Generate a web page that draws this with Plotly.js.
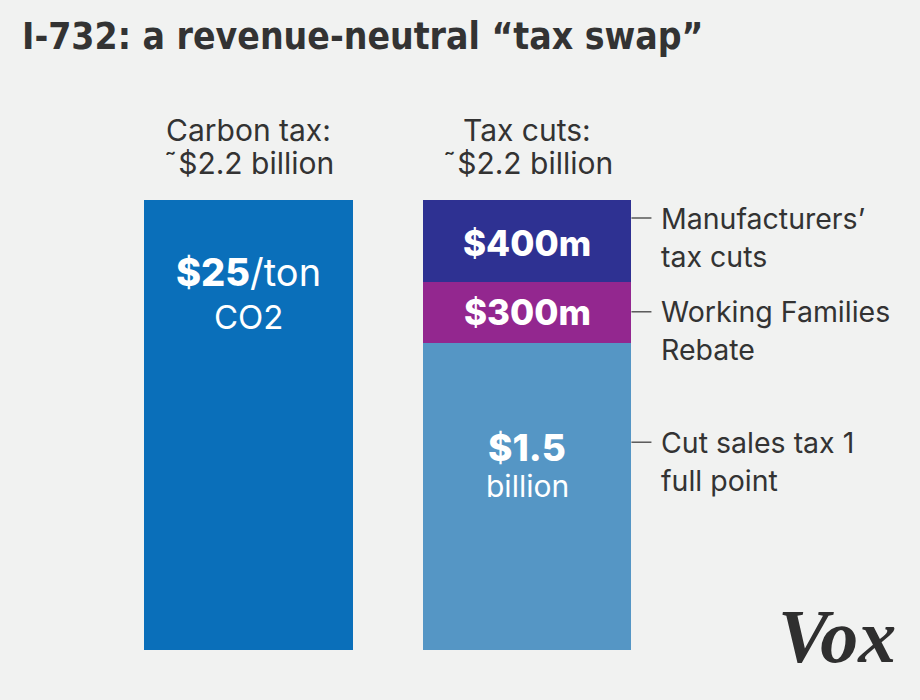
<!DOCTYPE html>
<html><head><meta charset="utf-8">
<script src="https://cdn.plot.ly/plotly-3.0.1.min.js"></script>
<style>body{margin:0;background:#f1f2f1;}#chart{width:920px;height:700px;}</style>
</head><body><div id="chart"></div>
<script>
// Data (billions of dollars)
const carbonTax = 2.2;
const cutNames = ["Cut sales tax 1 full point", "Working Families Rebate", "Manufacturers' tax cuts"];
const cutValues = [1.5, 0.3, 0.4];
const cutColors = ["#5596c5", "#93278f", "#2e3192"];
const B = t => "<span style='font-weight:800'>" + t + "</span>";
const cutInside = [[B("$1.5"), "billion"], [B("$300m")], [B("$400m")]];
const cutSide = [["Cut sales tax 1", "full point"], ["Working Families", "Rebate"], ["Manufacturers’", "tax cuts"]];
const headers = [["Carbon tax:", "˜$2.2 billion"], ["Tax cuts:", "˜$2.2 billion"]];

const FONT = "Inter, 'Open Sans', sans-serif";
const TXT = "#333333";
const W = 0.75;

const traces = [{
  type: "bar", x: [0], y: [carbonTax], width: W,
  marker: {color: "#0a6fba", line: {width: 0}}, hoverinfo: "skip", showlegend: false
}];
cutValues.forEach((v, i) => traces.push({
  type: "bar", x: [1], y: [v], width: W, name: cutNames[i],
  marker: {color: cutColors[i], line: {width: 0}}, hoverinfo: "skip", showlegend: false
}));

const pxPerUnit = 450 / 2.2;
const u = px => px / pxPerUnit;

const ann = [];
headers.forEach((h, i) => {
  ann.push({x: i, y: carbonTax + u(70), text: h[0]});
  ann.push({x: i, y: carbonTax + u(37), text: h[1]});
});
ann.forEach(a => Object.assign(a, {xref: "x", yref: "y", showarrow: false, xanchor: "center", yanchor: "middle", font: {family: FONT, size: 30, color: TXT}}));

ann.push({x: 0, y: carbonTax - u(72), text: B("$25") + "/ton", xref: "x", yref: "y", showarrow: false, font: {family: FONT, size: 38, color: "#ffffff"}});
ann.push({x: 0, y: carbonTax - u(117), text: "CO2", xref: "x", yref: "y", showarrow: false, font: {family: FONT, size: 33, color: "#ffffff"}});

let base = 0;
const shapes = [];
const insideOffsets = [[-104, -143], [-30], [-43]];
const insideSizes = [[37, 30], [35], [35]];
const sideOffset = [99, 30, 18];
cutValues.forEach((v, i) => {
  const top = base + v;
  cutInside[i].forEach((t, j) => {
    ann.push({x: 1, y: top + u(insideOffsets[i][j]), text: t, xref: "x", yref: "y", showarrow: false,
      font: {family: FONT, size: insideSizes[i][j], color: "#ffffff"}});
  });
  const ly = top - u(sideOffset[i]);
  shapes.push({type: "line", xref: "x", yref: "y", x0: 1 + W / 2, x1: 1 + W / 2 + 20 / 278.5, y0: ly, y1: ly, line: {color: TXT, width: 1.2}});
  cutSide[i].forEach((t, j) => {
    ann.push({x: 1 + W / 2 + 28 / 278.5, y: ly - u(38 * j), text: t, xref: "x", yref: "y", showarrow: false,
      xanchor: "left", yanchor: "middle", font: {family: FONT, size: 28.5, color: TXT}});
  });
  base = top;
});

// Vox logo
ann.push({xref: "paper", yref: "container", x: 1, y: 0, xanchor: "right", yanchor: "bottom", xshift: -22, yshift: -30,
  text: "<b><i>Vox</i></b>", showarrow: false, font: {family: "'Liberation Serif', 'DejaVu Serif', serif", size: 76, color: "#2f2f2f"}});

const layout = {
  width: 920, height: 700,
  paper_bgcolor: "#f1f2f1", plot_bgcolor: "#f1f2f1",
  margin: {l: 100, r: 0, t: 100, b: 50},
  barmode: "stack", bargap: 0,
  title: {text: "<b>I-732: a revenue-neutral “tax swap”</b>", xref: "container", yref: "container",
    x: 22 / 920, xanchor: "left", y: 1 - 36 / 700, yanchor: "middle",
    font: {family: "'Liberation Sans Narrow', 'DejaVu Sans Condensed', 'Roboto Condensed', sans-serif", size: 37, color: "#333333"}},
  xaxis: {range: [-148.5 / 278.5, -148.5 / 278.5 + 820 / 278.5], visible: false, fixedrange: true},
  yaxis: {range: [0, 550 / pxPerUnit], visible: false, fixedrange: true},
  annotations: ann, shapes: shapes, hovermode: false, showlegend: false
};
Plotly.newPlot("chart", traces, layout, {displayModeBar: false, staticPlot: true});
</script></body></html>
